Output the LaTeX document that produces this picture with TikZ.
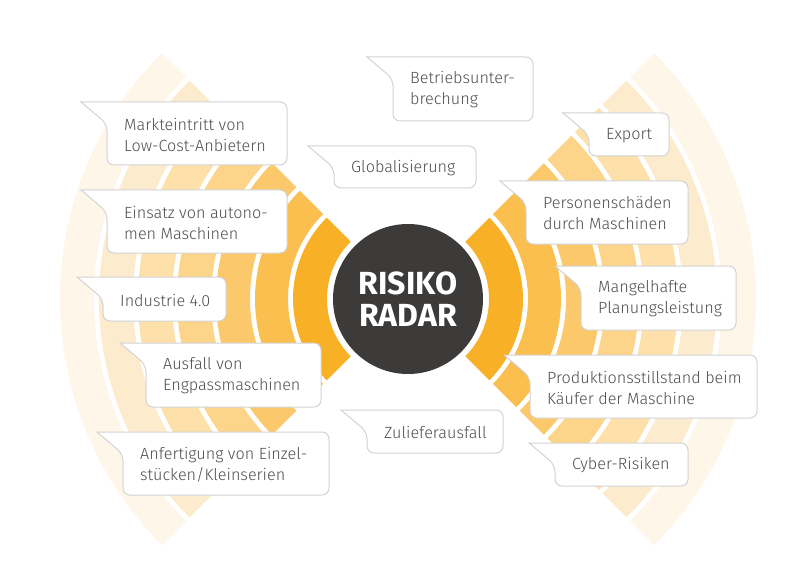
\documentclass[tikz,border=0pt]{standalone}
\usepackage{fontspec}
\IfFontExistsTF{Fira Sans Light}{\setmainfont{Fira Sans Light}}{\setmainfont{Fira Sans}}
\newfontfamily\hubfont{Fira Sans}
\usepackage{tikz}
\definecolor{ring1}{HTML}{F8B126}
\definecolor{ring2}{HTML}{FABF4E}
\definecolor{ring3}{HTML}{FBC96B}
\definecolor{ring4}{HTML}{FCD48A}
\definecolor{ring5}{HTML}{FDE0AA}
\definecolor{ring6}{HTML}{FDEBCE}
\definecolor{ring7}{HTML}{FEF6E9}
\definecolor{hubgray}{HTML}{3C3B39}
\definecolor{bubblegray}{HTML}{D3D3D3}
\definecolor{textgray}{HTML}{4E4E4E}
% one band of the radar on both sides: colour, inner radius, outer radius
\newcommand{\radarband}[3]{%
  \fill[#1, shift={(radar)}] (135:#3) arc[start angle=135, end angle=225, radius=#3]
     -- (225:#2) arc[start angle=225, end angle=135, radius=#2] -- cycle;
  \fill[#1, shift={(radar)}] (-45:#3) arc[start angle=-45, end angle=45, radius=#3]
     -- (45:#2) arc[start angle=45, end angle=-45, radius=#2] -- cycle;
}
% speech bubble: name, left, top, width, height, text
\newcommand{\bubble}[6]{%
  \draw[bubbleline] (#2-26,#3) [rounded corners=7pt] -- (#2+#4,#3) -- (#2+#4,#3+#5)
     -- (#2,#3+#5) -- (#2,#3+22) [sharp corners] -- cycle;
  \node[bubbletext] (#1) at (#2+17,#3+#5/2+1) {#6};
}

\begin{document}
\begin{tikzpicture}[
    x=1pt, y=-1pt,
    bubbleline/.style={draw=bubblegray, fill=white, line width=1pt},
    bubbletext/.style={anchor=west, align=left, inner sep=0pt, text=textgray,
                font=\fontsize{16.2}{21}\selectfont},
    hub/.style={circle, fill=hubgray, minimum size=150pt, inner sep=0pt,
                align=center, text=white, font=\hubfont\bfseries\fontsize{32}{32}\selectfont}
]
\useasboundingbox (0,0) rectangle (800,580);
\coordinate (radar) at (408,299);

% Radar bands
\radarband{ring7}{314}{348}
\radarband{ring6}{275}{309}
\radarband{ring5}{236}{270}
\radarband{ring4}{197}{231}
\radarband{ring3}{158}{192}
\radarband{ring2}{120}{153}
\radarband{ring1}{81}{115}

\node[hub] (hub) at (radar) {RISIKO\\RADAR};

% Risks
\bubble{betrieb}{393}{57}{140}{64}{Betriebsunter-\\brechung}
\bubble{markt}{107}{102}{180}{63}{Markteintritt von\\Low-Cost-Anbietern}
\bubble{global}{334}{146}{142}{42}{Globalisierung}
\bubble{export}{589}{113}{80}{43}{Export}
\bubble{personen}{526}{181}{162}{63}{Personenschäden\\durch Maschinen}
\bubble{einsatz}{107}{190}{180}{63}{Einsatz von autono-\\men Maschinen}
\bubble{mangel}{581}{266}{155}{64}{Mangelhafte\\Planungsleistung}
\bubble{industrie}{103}{277}{123}{44}{Industrie 4.0}
\bubble{ausfall}{146}{343}{175}{64}{Ausfall von\\Engpassmaschinen}
\bubble{produktion}{530}{355}{227}{63}{Produktionsstillstand beim\\Käufer der Maschine}
\bubble{zuliefer}{367}{410}{136}{43}{Zulieferausfall}
\bubble{anfertigung}{123}{432}{206}{63}{Anfertigung von Einzel-\\stücken/Kleinserien}
\bubble{cyber}{555}{443}{133}{43}{Cyber-Risiken}
\end{tikzpicture}
\end{document}
